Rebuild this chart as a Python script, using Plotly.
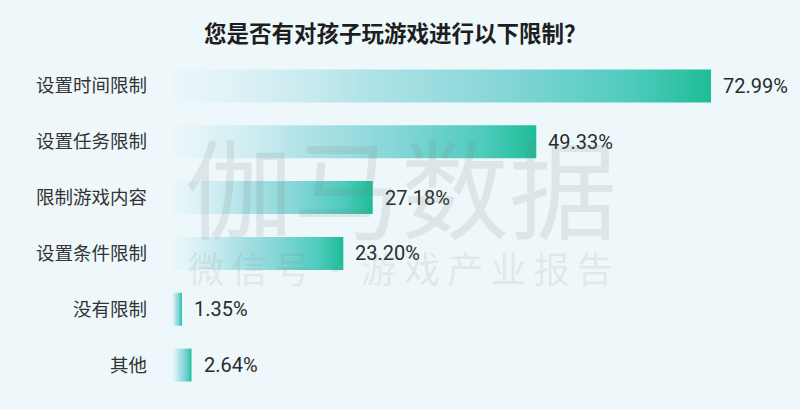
import plotly.graph_objects as go

title = "您是否有对孩子玩游戏进行以下限制？"
categories = ["设置时间限制", "设置任务限制", "限制游戏内容", "设置条件限制", "没有限制", "其他"]
values = [72.99, 49.33, 27.18, 23.20, 1.35, 2.64]
value_labels = ["72.99%", "49.33%", "27.18%", "23.20%", "1.35%", "2.64%"]

BG = "#eef8fb"
GRAD = [[0.0, "rgba(232,245,248,0.5)"], [0.35, "#b2e3e8"], [0.6, "#88d7d8"],
        [0.85, "#4fcbbd"], [1.0, "#1ebd98"]]
HALF = 0.295

fig = go.Figure()
for i, (cat, v) in enumerate(zip(categories, values)):
    fig.add_trace(go.Scatter(
        x=[0, v, v, 0, 0],
        y=[i - HALF, i - HALF, i + HALF, i + HALF, i - HALF],
        mode="lines", fill="toself",
        line=dict(width=0, color="rgba(0,0,0,0)"),
        fillgradient=dict(type="horizontal", colorscale=GRAD),
        hoverinfo="skip", showlegend=False, name=cat,
    ))
    fig.add_annotation(x=v, y=i, text=value_labels[i], showarrow=False,
                       xanchor="left", yanchor="middle", xshift=10,
                       font=dict(family="Roboto", size=20, color="#2b2b2b"))

# watermark
WM = "rgba(120,130,130,0.15)"
fig.add_annotation(xref="paper", yref="paper", x=(401 - 172) / 608, y=(410 - 16.5 - 184) / 336,
                   text="伽马数据", showarrow=False,
                   font=dict(family="Noto Sans CJK SC", size=108, color=WM))
fig.add_annotation(xref="paper", yref="paper", x=(400 - 172) / 608, y=(410 - 16.5 - 267) / 336,
                   text="\u2009".join("微信号·游戏产业报告"), showarrow=False,
                   font=dict(family="Noto Sans CJK SC", size=36, color=WM))

fig.update_layout(
    width=800, height=410,
    margin=dict(l=172, r=20, t=57.5, b=16.5),
    paper_bgcolor=BG, plot_bgcolor=BG,
    title=dict(text="<b>" + title + "</b>", x=0.494, xanchor="center", y=1 - 34 / 410, yanchor="middle",
               font=dict(family="Noto Sans CJK SC", size=22.5, color="#1e1e1e")),
    xaxis=dict(range=[0, 608 / 7.385], visible=False, fixedrange=True),
    yaxis=dict(range=[5.5, -0.5], tickvals=list(range(len(categories))), ticktext=categories,
               showgrid=False, zeroline=False, showline=False, ticks="", ticklabelstandoff=24,
               tickfont=dict(family="Noto Sans CJK SC", size=18.5, color="#333333")),
)

fig.write_html("out.html", config={"displayModeBar": False},
               post_script="document.body.style.margin='0';")
